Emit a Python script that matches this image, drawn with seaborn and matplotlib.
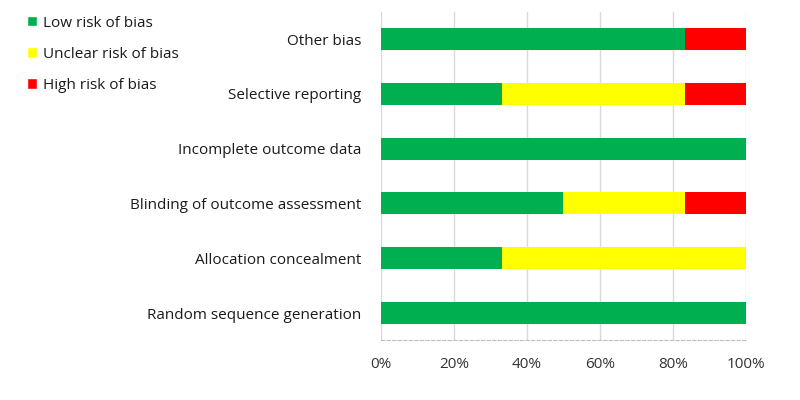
import pandas as pd
import numpy as np
import matplotlib.pyplot as plt
import seaborn as sns
from matplotlib.patches import Patch
from matplotlib.ticker import PercentFormatter

domains = ['Other bias', 'Selective reporting', 'Incomplete outcome data',
           'Blinding of outcome assessment', 'Allocation concealment',
           'Random sequence generation']
low = [83.3, 33.3, 100, 50, 33.3, 100]
unclear = [0, 50, 0, 33.3, 66.7, 0]
high = [16.7, 16.7, 0, 16.7, 0, 0]

labels = ['Low risk of bias', 'Unclear risk of bias', 'High risk of bias']
colors = ['#00B050', '#FFFF00', '#FF0000']

df = pd.DataFrame({'domain': domains, 'low': low, 'unclear': unclear, 'high': high})
df['c1'] = df['low']
df['c2'] = df['low'] + df['unclear']
df['c3'] = df['c2'] + df['high']

sns.set_style('white')
plt.rcParams['font.family'] = ['Open Sans', 'DejaVu Sans']

fig = plt.figure(figsize=(8, 4), dpi=100)
ax = fig.add_axes([0.476, 0.149, 0.4565, 0.822])

# stacked: draw cumulative totals back to front
for col, color in zip(['c3', 'c2', 'c1'], colors[::-1]):
    sns.barplot(data=df, x=col, y='domain', order=domains, color=color,
                width=0.4, saturation=1, orient='h', ax=ax, zorder=3, linewidth=0)

ax.set_xlim(0, 100)
ax.set_ylim(5.5, -0.5)
ax.xaxis.set_major_formatter(PercentFormatter(decimals=0))
ax.set_xticks([0, 20, 40, 60, 80, 100])
ax.set_xlabel('')
ax.set_ylabel('')
ax.grid(axis='x', color='#d9d9d9', linewidth=1, zorder=0)
for s in ['top', 'right', 'left']:
    ax.spines[s].set_visible(False)
ax.spines['bottom'].set_color('#bfbfbf')
ax.spines['bottom'].set_linestyle((0, (3, 2)))
ax.tick_params(axis='x', length=4, color='#d9d9d9', labelsize=11, pad=8, labelcolor='#333333')
ax.tick_params(axis='y', length=0, labelsize=11, pad=14, labelcolor='#1a1a1a')

handles = [Patch(facecolor=c, label=l) for c, l in zip(colors, labels)]
fig.legend(handles=handles, loc='upper left', bbox_to_anchor=(0.017, 0.995),
           frameon=False, fontsize=11, handlelength=0.65, handleheight=0.65,
           handletextpad=0.35, labelspacing=1.05, labelcolor='#1a1a1a')

fig.savefig('out.png', dpi=100)
